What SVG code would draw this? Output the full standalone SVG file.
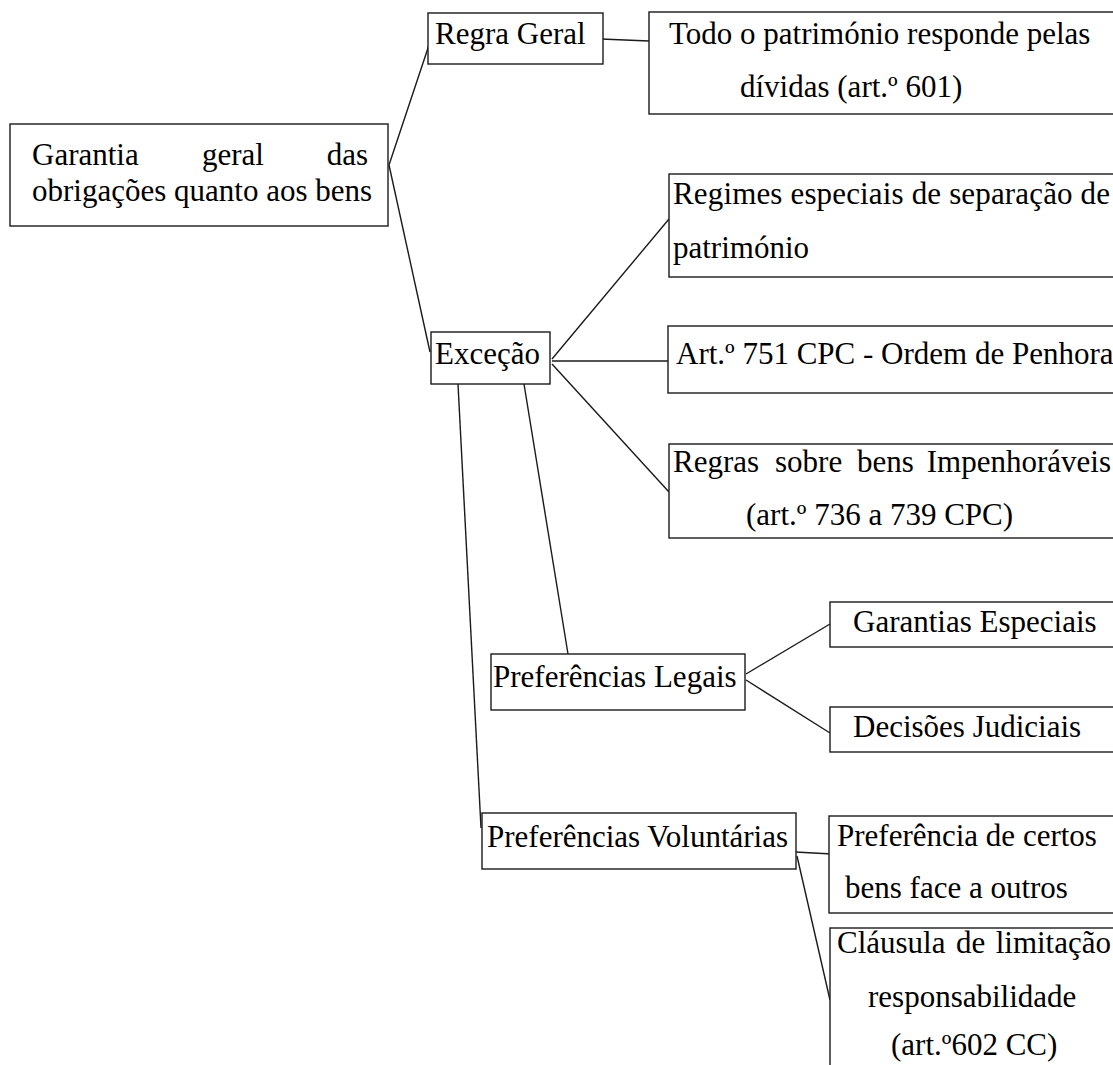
<svg xmlns="http://www.w3.org/2000/svg" width="1113" height="1065" viewBox="0 0 1113 1065">
<style>
rect.box{fill:#fff;stroke:#1a1a1a;stroke-width:1.4}
text{font-family:"Liberation Serif","Times New Roman",serif;font-size:31px;fill:#000}
.e{text-anchor:end}
#connectors line{stroke:#1a1a1a;stroke-width:1.4;fill:none}
</style>
<rect width="1113" height="1065" fill="#fff"/>
<g id="connectors">
<line x1="389" y1="165" x2="429" y2="45"/>
<line x1="389" y1="165" x2="430" y2="352"/>
<line x1="601" y1="39" x2="649" y2="41"/>
<line x1="552" y1="359" x2="669" y2="219"/>
<line x1="552" y1="361" x2="668" y2="361"/>
<line x1="552" y1="364" x2="669" y2="492"/>
<line x1="524" y1="384" x2="568" y2="654"/>
<line x1="458" y1="384" x2="481" y2="828"/>
<line x1="746" y1="674" x2="830" y2="624"/>
<line x1="746" y1="680" x2="830" y2="733"/>
<line x1="795" y1="852" x2="832" y2="854"/>
<line x1="797" y1="856" x2="830" y2="1000"/>
</g>
<g id="root">
<rect class="box" x="10" y="124" width="378" height="102"/>
<text x="32" y="165">Garantia</text>
<text x="202" y="165">geral</text>
<text class="e" x="368" y="165">das</text>
<text x="32" y="201">obrigações quanto aos bens</text>
</g>
<g id="regra-geral">
<rect class="box" x="428" y="13" width="175" height="51"/>
<text x="435" y="44">Regra Geral</text>
</g>
<g id="todo-patrimonio">
<rect class="box" x="649" y="12" width="480" height="102"/>
<text x="669" y="44">Todo o património responde pelas</text>
<text x="740" y="97">dívidas (art.º 601)</text>
</g>
<g id="excecao">
<rect class="box" x="431" y="332" width="119" height="52"/>
<text x="435" y="364">Exceção</text>
</g>
<g id="regimes">
<rect class="box" x="669" y="174" width="460" height="103"/>
<text x="673" y="204" textLength="437" lengthAdjust="spacing">Regimes especiais de separação de</text>
<text x="673" y="258">património</text>
</g>
<g id="art751">
<rect class="box" x="668" y="326" width="460" height="67"/>
<text x="676" y="364">Art.º 751 CPC - Ordem de Penhora</text>
</g>
<g id="regras">
<rect class="box" x="669" y="444" width="460" height="94"/>
<text x="673" y="472">Regras</text>
<text x="775" y="472">sobre</text>
<text x="857" y="472">bens</text>
<text class="e" x="1111" y="472">Impenhoráveis</text>
<text x="746" y="525">(art.º 736 a 739 CPC)</text>
</g>
<g id="pref-legais">
<rect class="box" x="491" y="654" width="254" height="56"/>
<text x="493" y="687">Preferências Legais</text>
</g>
<g id="garantias-especiais">
<rect class="box" x="830" y="602" width="300" height="45"/>
<text x="853" y="632">Garantias Especiais</text>
</g>
<g id="decisoes-judiciais">
<rect class="box" x="830" y="707" width="300" height="45"/>
<text x="853" y="737">Decisões Judiciais</text>
</g>
<g id="pref-voluntarias">
<rect class="box" x="482" y="813" width="314" height="56"/>
<text x="487" y="847">Preferências Voluntárias</text>
</g>
<g id="preferencia-certos">
<rect class="box" x="829" y="816" width="300" height="97"/>
<text x="837" y="846">Preferência de certos</text>
<text x="845" y="898">bens face a outros</text>
</g>
<g id="clausula">
<rect class="box" x="830" y="928" width="300" height="150"/>
<text x="837" y="953">Cláusula</text>
<text x="956" y="953">de</text>
<text class="e" x="1111" y="953">limitação</text>
<text x="868" y="1007">responsabilidade</text>
<text x="891" y="1055">(art.º602 CC)</text>
</g>
</svg>
